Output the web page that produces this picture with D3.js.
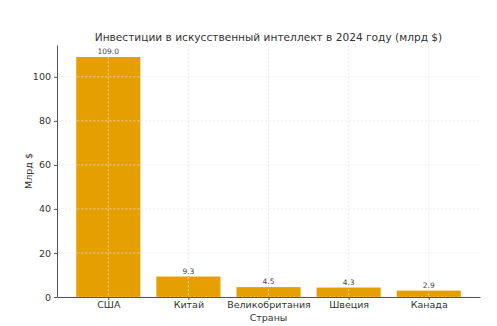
<!DOCTYPE html>
<html lang="ru">
<head>
<meta charset="UTF-8">
<title>Инвестиции в ИИ</title>
<style>
    body { margin: 0; background: #fff; }
    text { font-family: "DejaVu Sans", sans-serif; }
    .grid line { stroke: #e2e2e2; stroke-dasharray: 2.5,1.5; stroke-width: 0.6px; }
    .axis path, .axis line { stroke: #555; }
    .axis text { fill: #333; font-size: 9.5px; }
</style>
<script src="https://d3js.org/d3.v7.min.js"></script>
</head>
<body>
<svg width="497" height="326"></svg>
<script>
    // Data
    const countries = ["США", "Китай", "Великобритания", "Швеция", "Канада"];
    const investments = [109.0, 9.3, 4.5, 4.3, 2.9];
    const yTicks = [0, 20, 40, 60, 80, 100];

    const margin = { top: 45, right: 17, bottom: 29, left: 57 };
    const width = 497, height = 326;

    const svg = d3.select("svg");

    // x scale in category index units, matplotlib-like margins
    const x = d3.scaleLinear()
        .domain([-0.64, countries.length - 1 + 0.64])
        .range([margin.left, width - margin.right]);

    const y = d3.scaleLinear()
        .domain([0, d3.max(investments) * 1.05])
        .range([height - margin.bottom, margin.top]);

    const barW = x(0.8) - x(0);

    // Bars
    svg.append("g")
        .selectAll("rect")
        .data(investments)
        .enter().append("rect")
        .attr("x", (d, i) => x(i) - barW / 2)
        .attr("y", d => y(d))
        .attr("width", barW)
        .attr("height", d => y(0) - y(d))
        .attr("fill", "#e69f00");

    // Grid (drawn over bars)
    const grid = svg.append("g").attr("class", "grid");
    grid.selectAll(".h")
        .data(yTicks)
        .enter().append("line")
        .attr("x1", margin.left).attr("x2", width - margin.right)
        .attr("y1", d => y(d)).attr("y2", d => y(d));
    grid.selectAll(".v")
        .data(countries)
        .enter().append("line")
        .attr("x1", (d, i) => x(i)).attr("x2", (d, i) => x(i))
        .attr("y1", margin.top).attr("y2", height - margin.bottom);

    // Value labels
    svg.append("g")
        .selectAll("text")
        .data(investments)
        .enter().append("text")
        .attr("x", (d, i) => x(i))
        .attr("y", d => y(d) - 3)
        .attr("text-anchor", "middle")
        .attr("font-size", "7.5px")
        .attr("fill", "#444")
        .text(d => d.toFixed(1));

    // Axes
    const xAxis = d3.axisBottom(x)
        .tickValues(d3.range(countries.length))
        .tickFormat(i => countries[i])
        .tickSize(3).tickSizeOuter(0).tickPadding(1.5);
    svg.append("g")
        .attr("class", "axis")
        .attr("transform", `translate(0,${height - margin.bottom})`)
        .call(xAxis);

    const yAxis = d3.axisLeft(y)
        .tickValues(yTicks)
        .tickSize(3).tickSizeOuter(0);
    svg.append("g")
        .attr("class", "axis")
        .attr("transform", `translate(${margin.left},0)`)
        .call(yAxis);

    // Titles
    svg.append("text")
        .attr("x", (margin.left + width - margin.right) / 2)
        .attr("y", 41)
        .attr("text-anchor", "middle")
        .attr("font-size", "10.6px")
        .attr("fill", "#333")
        .text("Инвестиции в искусственный интеллект в 2024 году (млрд $)");

    svg.append("text")
        .attr("x", (margin.left + width - margin.right) / 2)
        .attr("y", 321)
        .attr("text-anchor", "middle")
        .attr("font-size", "9.5px")
        .attr("fill", "#333")
        .text("Страны");

    svg.append("text")
        .attr("transform", `translate(32,${(margin.top + height - margin.bottom) / 2}) rotate(-90)`)
        .attr("text-anchor", "middle")
        .attr("font-size", "9.5px")
        .attr("fill", "#333")
        .text("Млрд $");
</script>
</body>
</html>
